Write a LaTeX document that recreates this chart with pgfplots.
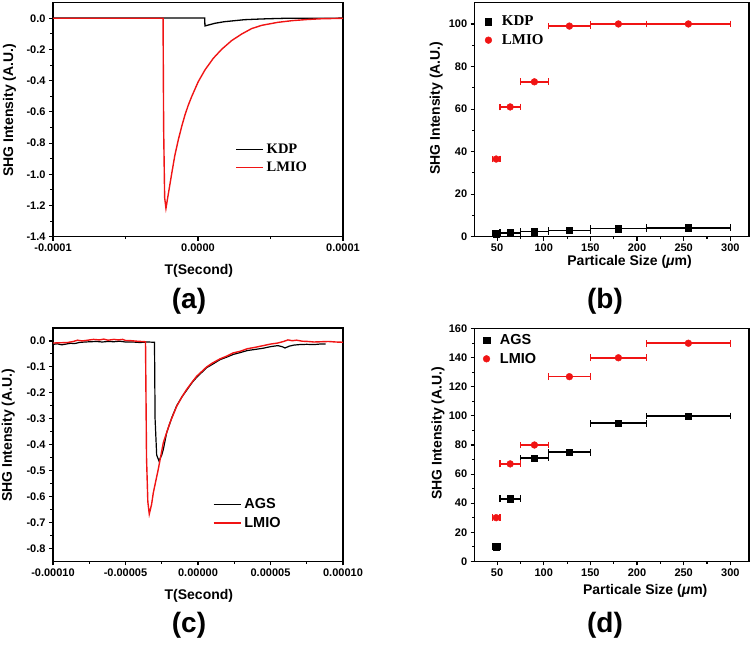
\documentclass[border=0pt]{standalone}
\usepackage{pgfplots}
\pgfplotsset{compat=1.18}
\usepackage{fontspec}
\setmainfont{Liberation Sans}
\newfontfamily\timesf{Liberation Serif}
\definecolor{lred}{RGB}{240,20,20}
\tikzset{lblfont/.style={font=\bfseries\fontsize{14}{16}\selectfont}}
\pgfplotsset{
  panel/.style={
    scale only axis, anchor=south west,
    axis line style={line width=1.3pt},
    tick align=outside, tick pos=left,
    major tick length=4pt, minor tick length=2.5pt,
    every tick/.style={line width=1.1pt, black},
    /pgf/number format/assume math mode=true,
    ticklabel style={font=\bfseries\fontsize{11}{12}\selectfont},
    scaled x ticks=false, scaled y ticks=false,
    legend cell align=left,
    clip=true,
  },
  linelegend/.style={
    legend image code/.code={\draw[##1, line width=1.4pt] (0pt,0pt) -- (27pt,0pt);},
  },
  marklegend/.style={
    legend image code/.code={\draw[##1] plot coordinates {(3.5pt,0pt)};},
  },
  ebar/.style={error bars/.cd, x dir=both, x explicit, error mark=|,
    error bar style={line width=1.6pt, #1},
    error mark options={mark size=3.4pt, line width=1.4pt, #1}},
}
\begin{document}
\begin{tikzpicture}
\useasboundingbox (0,0) rectangle (756pt,648pt);

% ---------------- (a) ----------------
\begin{axis}[panel, linelegend,
  at={(53pt,411.3pt)}, width=290pt, height=234pt,
  xmin=-1e-4, xmax=1e-4, ymin=-1.4, ymax=0.1,
  xtick={-1e-4,0,1e-4}, xticklabels={-0.0001,0.0000,0.0001},
  minor xtick={-5e-5,5e-5},
  ytick={-1.4,-1.2,-1,-0.8,-0.6,-0.4,-0.2,0},
  yticklabels={-1.4,-1.2,-1.0,-0.8,-0.6,-0.4,-0.2,0.0},
  minor ytick={-1.3,-1.1,-0.9,-0.7,-0.5,-0.3,-0.1},
  xlabel={T(Second)}, ylabel={SHG Intensity (A.U.)},
  every axis x label/.style={at={(axis description cs:0.503,-0.146)}, anchor=center, lblfont},
  every axis y label/.style={at={(axis description cs:-0.150,0.54)}, anchor=center, rotate=90, lblfont},
  legend style={at={(0.628,0.405)}, anchor=north west, draw=none, fill=none,
    inner sep=0pt, row sep=3pt, column sep=1pt,
    font=\timesf\bfseries\fontsize{14.5}{16}\selectfont},
]
\addplot[black, line width=1.3pt] coordinates {
(-1e-4,0.002) (-5e-5,0.002) (0,0.002) (0.46e-5,0.002) (0.48e-5,-0.049)
(0.8e-5,-0.041) (1.17e-5,-0.032) (1.8e-5,-0.022) (2.55e-5,-0.015)
(3.2e-5,-0.009) (3.93e-5,-0.006) (4.8e-5,-0.003) (6e-5,0.0) (1e-4,0.001)};
\addlegendentry{KDP}
\addplot[lred, line width=1.4pt] coordinates {
(-1e-4,0) (-2.41e-5,0) (-2.37e-5,-0.7) (-2.3e-5,-1.15) (-2.21e-5,-1.218)
(-2.0e-5,-1.10) (-1.81e-5,-0.994) (-1.6e-5,-0.88) (-1.36e-5,-0.78)
(-1.13e-5,-0.695) (-0.90e-5,-0.62) (-0.67e-5,-0.557) (-0.44e-5,-0.503)
(-0.2e-5,-0.452) (0.02e-5,-0.406) (0.48e-5,-0.331) (1.06e-5,-0.256)
(1.63e-5,-0.199) (2.32e-5,-0.143) (3.01e-5,-0.101) (3.7e-5,-0.066)
(4.4e-5,-0.045) (5.5e-5,-0.026) (6.5e-5,-0.015) (7.5e-5,-0.008)
(8.5e-5,-0.003) (1e-4,0)};
\addlegendentry{LMIO}
\end{axis}
\node[font=\bfseries\fontsize{28}{30}\selectfont] at (189pt,347pt) {(a)};

% ---------------- (b) ----------------
\begin{axis}[panel, marklegend,
  at={(474.7pt,411.3pt)}, width=274.3pt, height=234pt,
  xmin=26, xmax=320, ymin=0, ymax=110,
  xtick={50,100,150,200,250,300}, minor xtick={75,125,175,225,275},
  ytick={0,20,40,60,80,100}, minor ytick={10,30,50,70,90},
  xlabel={Particale Size (\textit{μ}m)}, ylabel={SHG Intensity (A.U.)},
  every axis x label/.style={at={(axis description cs:0.325,-0.107)}, anchor=west, lblfont},
  every axis y label/.style={at={(axis description cs:-0.140,0.55)}, anchor=center, rotate=90, lblfont},
  legend style={at={(0.037,0.952)}, anchor=north west, draw=none, fill=none,
    inner sep=0pt, row sep=3pt, column sep=8pt,
    font=\timesf\bfseries\fontsize{15}{17}\selectfont},
]
\addplot[black, only marks, mark=square*, mark size=3.2pt, ebar=black]
  table[x=x, y=y, x error=ex] {
x y ex
49 1.5 4
64 1.8 11
90 2.4 15
127.5 3.0 22.5
180 3.8 30
255 4.2 45
};
\addlegendentry{KDP}
\addplot[lred, only marks, mark=*, mark size=3.4pt, ebar=lred]
  table[x=x, y=y, x error=ex] {
x y ex
49 36.5 4
64 61 11
90 72.8 15
127.5 99 22.5
180 100 30
255 100 45
};
\addlegendentry{LMIO}
\end{axis}
\node[font=\bfseries\fontsize{28}{30}\selectfont] at (605pt,347pt) {(b)};

% ---------------- (c) ----------------
\begin{axis}[panel, linelegend,
  at={(53pt,86.7pt)}, width=290pt, height=233.3pt,
  xmin=-1e-4, xmax=1e-4, ymin=-0.85, ymax=0.05,
  xtick={-1e-4,-5e-5,0,5e-5,1e-4},
  xticklabels={-0.00010,-0.00005,0.00000,0.00005,0.00010},
  minor xtick={-7.5e-5,-2.5e-5,2.5e-5,7.5e-5},
  ytick={-0.8,-0.7,-0.6,-0.5,-0.4,-0.3,-0.2,-0.1,0},
  yticklabels={-0.8,-0.7,-0.6,-0.5,-0.4,-0.3,-0.2,-0.1,0.0},
  minor ytick={-0.75,-0.65,-0.55,-0.45,-0.35,-0.25,-0.15,-0.05},
  xlabel={T(Second)}, ylabel={SHG Intensity (A.U.)},
  every axis x label/.style={at={(axis description cs:0.503,-0.147)}, anchor=center, lblfont},
  every axis y label/.style={at={(axis description cs:-0.154,0.54)}, anchor=center, rotate=90, lblfont},
  legend style={at={(0.551,0.278)}, anchor=north west, draw=none, fill=none,
    inner sep=0pt, row sep=3pt, column sep=1pt,
    font=\bfseries\fontsize{14.5}{17}\selectfont},
]
\addplot[black, line width=1.2pt] coordinates {
(-1e-4,-0.013) (-9.7e-5,-0.011) (-9.4e-5,-0.015) (-9.1e-5,-0.012) (-8.8e-5,-0.009)
(-8.5e-5,-0.010) (-8.2e-5,-0.006) (-7.8e-5,-0.004) (-7.4e-5,-0.003) (-7e-5,-0.002)
(-6.6e-5,-0.004) (-6.2e-5,-0.002) (-5.8e-5,-0.003) (-5.4e-5,-0.001) (-5e-5,-0.004)
(-4.5e-5,-0.004) (-4e-5,-0.006) (-3.5e-5,-0.004) (-3.0e-5,-0.005)
(-2.96e-5,-0.30) (-2.85e-5,-0.44) (-2.69e-5,-0.463) (-2.5e-5,-0.44)
(-2.39e-5,-0.418) (-2.16e-5,-0.354) (-1.81e-5,-0.296) (-1.47e-5,-0.250)
(-1.1e-5,-0.215) (-0.78e-5,-0.190) (-0.4e-5,-0.160) (-0.09e-5,-0.140)
(0.6e-5,-0.103) (1.0e-5,-0.090) (1.52e-5,-0.072) (2.0e-5,-0.062) (2.43e-5,-0.052)
(2.9e-5,-0.045) (3.4e-5,-0.037) (3.9e-5,-0.033) (4.5e-5,-0.028) (5.0e-5,-0.022)
(5.5e-5,-0.018) (5.8e-5,-0.022) (6.0e-5,-0.027) (6.3e-5,-0.020) (6.6e-5,-0.016)
(7.0e-5,-0.014) (7.5e-5,-0.013) (8.0e-5,-0.014) (8.4e-5,-0.012) (8.8e-5,-0.012)};
\addlegendentry{AGS}
\addplot[lred, line width=1.4pt] coordinates {
(-1e-4,-0.008) (-9.5e-5,-0.007) (-9e-5,-0.006) (-8.6e-5,-0.002) (-8.3e-5,0.003)
(-8e-5,0.0) (-7.6e-5,0.003) (-7.2e-5,0.006) (-6.8e-5,0.004) (-6.5e-5,0.007)
(-6.2e-5,0.003) (-5.8e-5,0.006) (-5.5e-5,0.004) (-5.2e-5,0.006) (-5e-5,0.002)
(-4.6e-5,0.001) (-4.2e-5,-0.001) (-3.9e-5,-0.002) (-3.62e-5,-0.003)
(-3.55e-5,-0.45) (-3.46e-5,-0.62) (-3.36e-5,-0.668) (-3.2e-5,-0.63)
(-3.08e-5,-0.585) (-2.74e-5,-0.495) (-2.39e-5,-0.392) (-1.93e-5,-0.315)
(-1.47e-5,-0.252) (-1.1e-5,-0.215) (-0.78e-5,-0.187) (-0.4e-5,-0.158)
(-0.09e-5,-0.136) (0.6e-5,-0.10) (1.0e-5,-0.085) (1.52e-5,-0.069) (2.0e-5,-0.058)
(2.43e-5,-0.046) (2.9e-5,-0.040) (3.4e-5,-0.030) (3.9e-5,-0.025) (4.5e-5,-0.018)
(5.0e-5,-0.012) (5.5e-5,-0.008) (5.9e-5,-0.002) (6.2e-5,0.004) (6.5e-5,0.001)
(6.8e-5,0.003) (7.2e-5,-0.001) (7.6e-5,-0.002) (8e-5,-0.004) (8.5e-5,-0.003)
(9e-5,-0.002) (9.5e-5,-0.004) (1e-4,-0.005)};
\addlegendentry{LMIO}
\end{axis}
\node[font=\bfseries\fontsize{28}{30}\selectfont] at (189pt,22.5pt) {(c)};

% ---------------- (d) ----------------
\begin{axis}[panel, marklegend,
  at={(474.7pt,86.7pt)}, width=274.3pt, height=232.6pt,
  xmin=26, xmax=320, ymin=0, ymax=160,
  xtick={50,100,150,200,250,300}, minor xtick={75,125,175,225,275},
  ytick={0,20,40,60,80,100,120,140,160}, minor ytick={10,30,50,70,90,110,130,150},
  xlabel={Particale Size (\textit{μ}m)}, ylabel={SHG Intensity (A.U.)},
  every axis x label/.style={at={(axis description cs:0.382,-0.126)}, anchor=west, lblfont},
  every axis y label/.style={at={(axis description cs:-0.134,0.55)}, anchor=center, rotate=90, lblfont},
  legend style={at={(0.030,0.985)}, anchor=north west, draw=none, fill=none,
    inner sep=0pt, row sep=3pt, column sep=8pt,
    font=\bfseries\fontsize{14.5}{17}\selectfont},
]
\addplot[black, only marks, mark=square*, mark size=3.2pt, ebar=black]
  table[x=x, y=y, x error=ex] {
x y ex
49 10 4
64 43 11
90 71 15
127.5 75 22.5
180 95 30
255 100 45
};
\addlegendentry{AGS}
\addplot[lred, only marks, mark=*, mark size=3.4pt, ebar=lred]
  table[x=x, y=y, x error=ex] {
x y ex
49 30 4
64 67 11
90 80 15
127.5 127 22.5
180 140 30
255 150 45
};
\addlegendentry{LMIO}
\end{axis}
\node[font=\bfseries\fontsize{28}{30}\selectfont] at (605pt,22.5pt) {(d)};
\end{tikzpicture}
\end{document}
